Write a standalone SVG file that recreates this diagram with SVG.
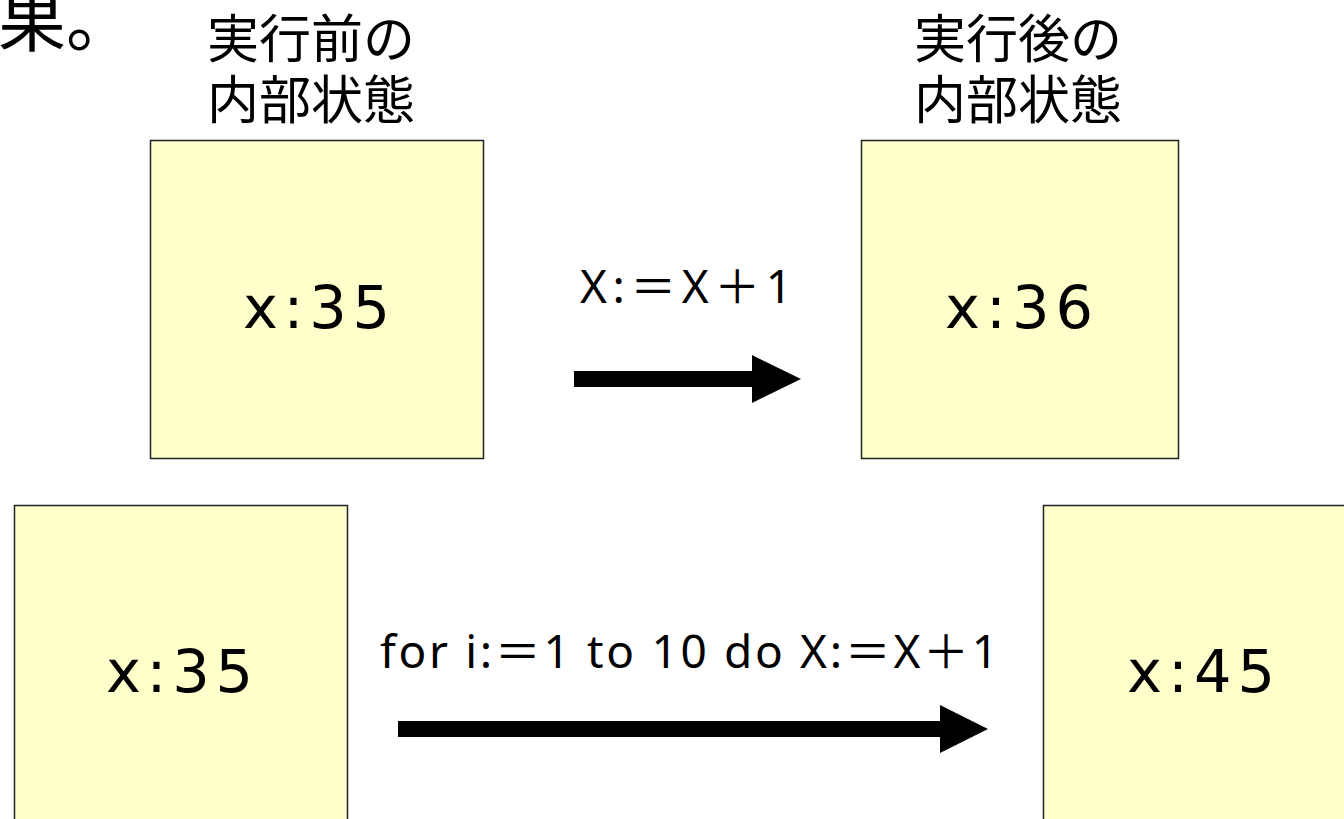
<svg xmlns="http://www.w3.org/2000/svg" width="1344" height="819" viewBox="0 0 1344 819">
<style>
.box{fill:#FFFFCC;stroke:#222;stroke-width:1.5}
.val{font-family:"DejaVu Sans","Noto Sans CJK JP",sans-serif;font-size:59px;fill:#000}
.jp{font-family:"Noto Sans CJK JP",sans-serif;font-size:52px;fill:#000;text-anchor:middle}
.lbl{font-family:"Noto Sans","Noto Sans CJK JP",sans-serif;font-size:46px;fill:#000}
</style>
<rect width="1344" height="819" fill="#fff"/>
<text x="-2" y="46" font-family="Noto Sans CJK JP,sans-serif" font-size="68" fill="#000">果。</text>
<g id="title-before"><text class="jp" x="311" y="58">実行前の</text><text class="jp" x="311" y="119">内部状態</text></g>
<g id="title-after"><text class="jp" x="1018" y="58">実行後の</text><text class="jp" x="1018" y="119">内部状態</text></g>
<g id="n1"><rect class="box" x="150.5" y="140.5" width="333" height="318"/><text class="val" x="243" y="328" textLength="147" lengthAdjust="spacing">x:35</text></g>
<g id="n2"><rect class="box" x="861.5" y="140.5" width="317" height="318"/><text class="val" x="945" y="328" textLength="148" lengthAdjust="spacing">x:36</text></g>
<g id="n3"><rect class="box" x="14.5" y="505.5" width="333" height="330"/><text class="val" x="106" y="692" textLength="147" lengthAdjust="spacing">x:35</text></g>
<g id="n4"><rect class="box" x="1043.5" y="505.5" width="320" height="330"/><text class="val" x="1127" y="692" textLength="148" lengthAdjust="spacing">x:45</text></g>
<g id="connectors">
<polygon points="574,371 752,371 752,355 801,379 752,403 752,387 574,387" fill="#000"/>
<text class="lbl" x="580" y="303" textLength="212" lengthAdjust="spacing">X:＝X＋1</text>
<polygon points="398,721 940,721 940,705 988,729 940,753 940,737 398,737" fill="#000"/>
<text class="lbl" x="380" y="668" textLength="618" lengthAdjust="spacing">for i:＝1 to 10 do X:＝X＋1</text>
</g>
</svg>
